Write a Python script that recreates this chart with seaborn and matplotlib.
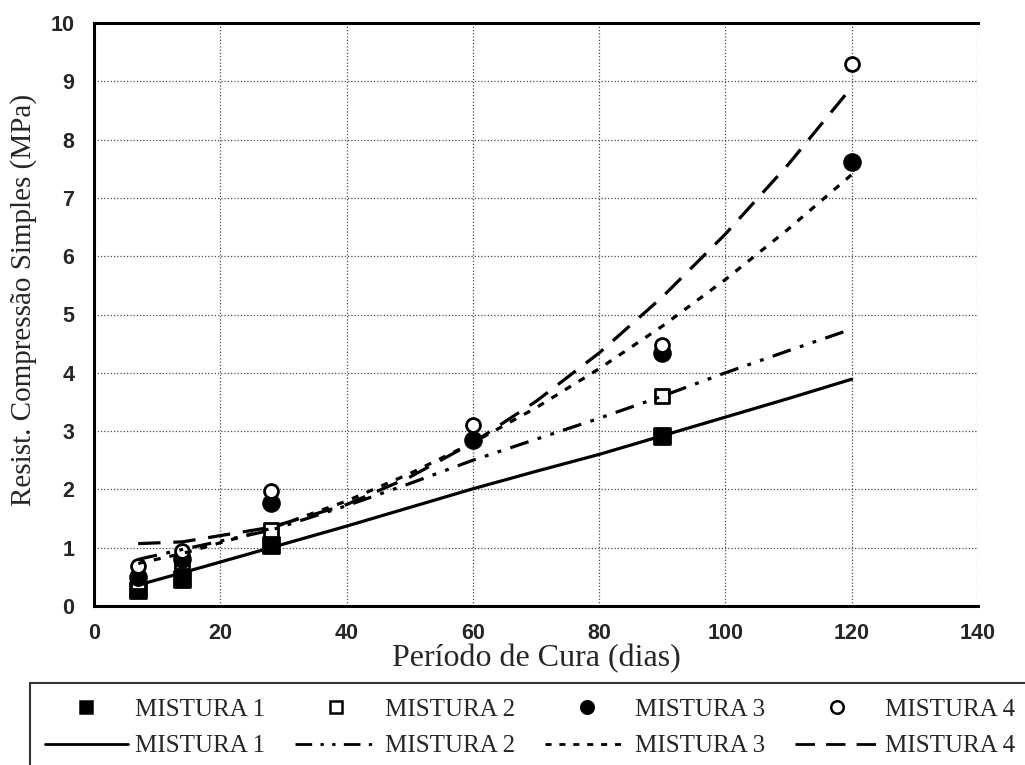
import numpy as np
import pandas as pd
import matplotlib
matplotlib.use("Agg")
import matplotlib.pyplot as plt
import seaborn as sns
from matplotlib.lines import Line2D

# ---- measured points (days, MPa) ----
days_m1 = [7, 14, 28, 90]
res_m1 = [0.28, 0.47, 1.05, 2.92]
days_m2 = [7, 14, 28, 90]
res_m2 = [0.42, 0.75, 1.30, 3.60]
days_m3 = [7, 14, 28, 60, 90, 120]
res_m3 = [0.50, 0.80, 1.77, 2.85, 4.34, 7.62]
days_m4 = [7, 14, 28, 60, 90, 120]
res_m4 = [0.68, 0.95, 1.98, 3.10, 4.48, 9.30]

# ---- trend lines ----
trend_days = [7, 14, 28, 40, 50, 60, 70, 80, 90, 100, 110, 120]
trend_m1 = [0.36, 0.57, 1.00, 1.37, 1.69, 2.01, 2.31, 2.60, 2.92, 3.24, 3.56, 3.89]
trend_m2 = [0.80, 0.97, 1.30, 1.72, 2.10, 2.50, 2.86, 3.22, 3.60, 4.00, 4.38, 4.75]
trend_m3 = [0.73, 0.90, 1.33, 1.80, 2.27, 2.80, 3.40, 4.07, 4.80, 5.60, 6.47, 7.40]
trend_m4 = [1.07, 1.10, 1.35, 1.74, 2.21, 2.80, 3.51, 4.34, 5.30, 6.38, 7.58, 8.90]

labels = ["MISTURA 1", "MISTURA 2", "MISTURA 3", "MISTURA 4"]
x_ticks = [0, 20, 40, 60, 80, 100, 120, 140]
y_ticks = [0, 1, 2, 3, 4, 5, 6, 7, 8, 9, 10]

sns.set_style("white")
plt.rcParams["font.family"] = ["Liberation Serif", "DejaVu Serif"]

W, H = 1025, 765
fig = plt.figure(figsize=(W / 100, H / 100), dpi=100)
ax = fig.add_axes([94 / W, 1 - 606 / H, (978 - 94) / W, (606 - 23) / H])

line_styles = [
    "-",
    (0, (6, 3, 1.2, 3, 1.2, 3)),
    (0, (2.2, 2.8)),
    (0, (7, 4)),
]
marker_specs = [
    ("s", "black", 120),
    ("s", "white", 95),
    ("o", "black", 130),
    ("o", "white", 100),
]
pts = [(days_m1, res_m1), (days_m2, res_m2), (days_m3, res_m3), (days_m4, res_m4)]
trends = [trend_m1, trend_m2, trend_m3, trend_m4]

for (dx, dy), (mk, fc, sz) in zip(pts, marker_specs):
    sns.scatterplot(x=dx, y=dy, ax=ax, marker=mk, s=sz, color=fc,
                    edgecolor="black", linewidth=2.0, zorder=4, legend=False)

for ty, ls in zip(trends, line_styles):
    sns.lineplot(x=trend_days, y=ty, ax=ax, color="black", linewidth=2.3,
                 linestyle=ls, zorder=5, legend=False)

ax.set_xlim(0, 140)
ax.set_ylim(0, 10)
ax.set_xticks(x_ticks)
ax.set_yticks(y_ticks)
ax.grid(True, linestyle=(0, (1, 1.6)), color="0.3", linewidth=0.9)
ax.set_axisbelow(True)
for side in ["left", "bottom", "top"]:
    ax.spines[side].set_visible(True)
    ax.spines[side].set_color("black")
    ax.spines[side].set_linewidth(2.2)
ax.spines["right"].set_visible(False)

ax.tick_params(axis="both", direction="out", length=5, width=1.2, color="black")
ax.tick_params(axis="x", pad=7)
ax.tick_params(axis="y", pad=9)
for lab in ax.get_xticklabels() + ax.get_yticklabels():
    lab.set_fontfamily(["Liberation Sans", "DejaVu Sans"])
    lab.set_fontweight("bold")
    lab.set_fontsize(15.5)

ax.set_xlabel("Período de Cura (dias)", fontsize=23, labelpad=0)
ax.set_ylabel("Resist. Compressão Simples (MPa)", fontsize=21)
ax.yaxis.set_label_coords(-0.064, 0.525)

handles = []
for (mk, fc, sz), ls, lab in zip(marker_specs, line_styles, labels):
    handles.append(Line2D([], [], marker=mk, linestyle="none", markersize=9,
                          markerfacecolor=fc, markeredgecolor="black",
                          markeredgewidth=1.8, label=lab))
    handles.append(Line2D([], [], color="black", linestyle=ls, linewidth=2.0,
                          label=lab))

leg = fig.legend(handles=handles, ncol=4, loc="upper left",
                 bbox_to_anchor=(30 / W, 1 - 683 / H), bbox_transform=fig.transFigure,
                 fontsize=18, frameon=True, fancybox=False, edgecolor="black",
                 handlelength=3.3, handletextpad=0.3, columnspacing=1.2,
                 labelspacing=0.58, borderpad=0.6, borderaxespad=0)
leg.get_frame().set_linewidth(1.5)

fig.savefig("out.png", dpi=100)
